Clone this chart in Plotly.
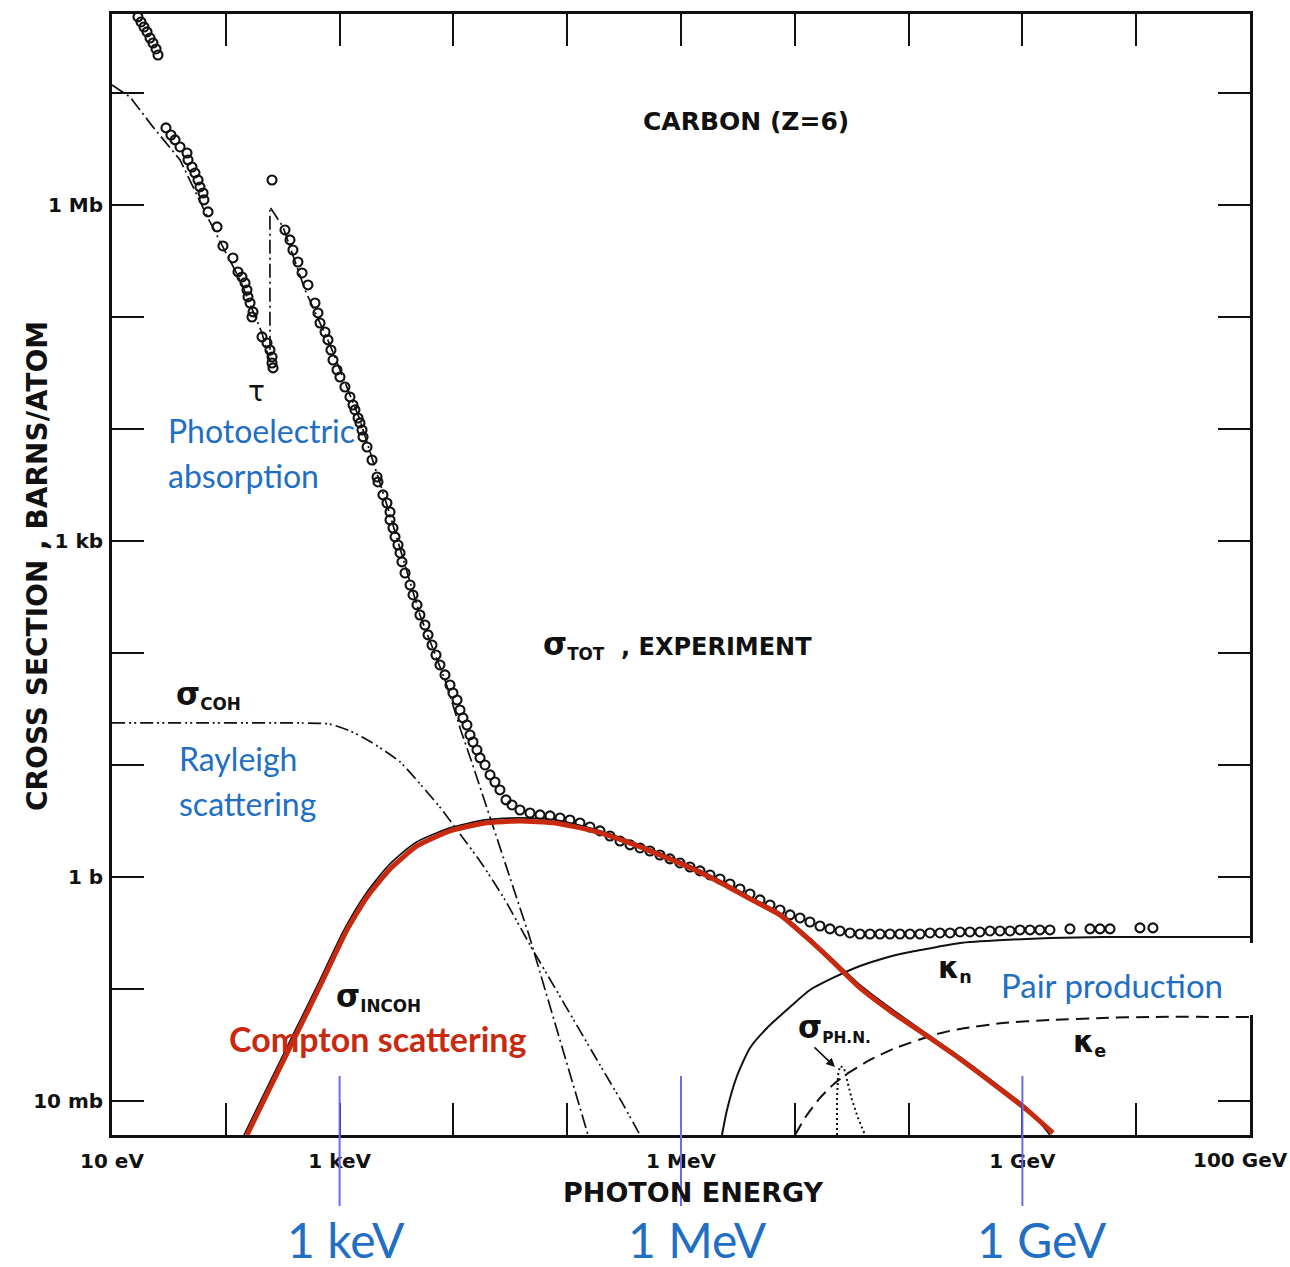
import numpy as np
import plotly.graph_objects as go

# ---------------- values ----------------
# energies are log10(E / eV), cross sections are log10(sigma / barn)

# sigma_TOT, experiment (open circles)
tot_log_e = [
    0.930, 0.938,
    1.228, 1.255, 1.281, 1.308, 1.334, 1.360, 1.387, 1.404,
    1.474, 1.518, 1.554, 1.598, 1.659, 1.668, 1.703, 1.729, 1.756, 1.773,
    1.800, 1.808, 1.844, 1.923, 1.975, 2.063, 2.107, 2.142, 2.169, 2.186,
    2.195, 2.213, 2.239, 2.230, 2.318, 2.362, 2.388, 2.406, 2.406, 2.415,
    2.406,
    2.520, 2.564, 2.590, 2.634, 2.670, 2.722, 2.784, 2.810, 2.828, 2.872,
    2.898, 2.924, 2.942, 2.977, 3.003, 3.047, 3.091, 3.118, 3.135, 3.162,
    3.179, 3.197, 3.206, 3.241, 3.285, 3.329, 3.337, 3.381, 3.416, 3.443,
    3.443, 3.469, 3.487, 3.513, 3.531, 3.548, 3.575,
    3.619, 3.645, 3.680, 3.706, 3.750, 3.777, 3.812, 3.847, 3.882, 3.926,
    3.970, 3.996, 4.032, 4.058, 4.084, 4.119, 4.146, 4.172, 4.207, 4.234,
    4.278, 4.322, 4.365, 4.409,
    4.462, 4.515, 4.585, 4.673, 4.761, 4.849, 4.937, 5.024, 5.112, 5.200,
    5.288, 5.376, 5.464, 5.552, 5.640, 5.727, 5.815, 5.903, 5.991, 6.079,
    6.167, 6.255, 6.343, 6.430, 6.518, 6.606, 6.694, 6.782, 6.870, 6.958,
    7.046, 7.133, 7.221, 7.309, 7.397, 7.485, 7.573, 7.661, 7.749, 7.836,
    7.924, 8.012, 8.100, 8.188, 8.276, 8.364, 8.452, 8.539, 8.627, 8.715,
    8.803, 8.891, 8.979, 9.067, 9.154, 9.242, 9.418, 9.594, 9.682, 9.770,
    10.033, 10.147,
]
tot_log_sigma = [
    7.455, 7.384,
    7.679, 7.634, 7.589, 7.545, 7.491, 7.446, 7.393, 7.339,
    6.688, 6.625, 6.581, 6.518, 6.464, 6.402, 6.339, 6.286, 6.223, 6.161,
    6.107, 6.045, 5.938, 5.804, 5.634, 5.527, 5.402, 5.357, 5.304, 5.241,
    5.179, 5.125, 5.045, 5.000, 4.822, 4.768, 4.705, 4.643, 4.589, 4.545,
    6.223,
    5.777, 5.688, 5.598, 5.491, 5.393, 5.286, 5.125, 5.036, 4.946, 4.866,
    4.795, 4.705, 4.616, 4.527, 4.464, 4.375, 4.286, 4.214, 4.170, 4.098,
    4.054, 3.991, 3.929, 3.839, 3.723, 3.571, 3.527, 3.411, 3.339, 3.259,
    3.188, 3.116, 3.036, 2.964, 2.893, 2.813, 2.714,
    2.607, 2.518, 2.429, 2.339, 2.250, 2.161, 2.071, 1.982, 1.893, 1.804,
    1.714, 1.643, 1.580, 1.491, 1.420, 1.357, 1.268, 1.205, 1.134, 1.063,
    1.000, 0.911, 0.848, 0.777,
    0.688, 0.643, 0.598, 0.571, 0.554, 0.545, 0.527, 0.509, 0.482, 0.446,
    0.411, 0.366, 0.321, 0.286, 0.259, 0.232, 0.196, 0.161, 0.125, 0.089,
    0.054, 0.018, -0.018, -0.063, -0.107, -0.152, -0.205, -0.250, -0.295, -0.339,
    -0.366, -0.402, -0.438, -0.464, -0.482, -0.500, -0.509, -0.509, -0.509, -0.509,
    -0.509, -0.509, -0.509, -0.500, -0.500, -0.500, -0.491, -0.491, -0.491, -0.482,
    -0.482, -0.482, -0.473, -0.473, -0.473, -0.473, -0.464, -0.464, -0.464, -0.464,
    -0.455, -0.455,
]

# tau, photoelectric absorption (dash-dot), with the carbon K edge
tau_log_e = [1.000, 1.158, 1.360, 1.598, 1.861, 2.125, 2.318, 2.388, 2.388, 2.503,
             2.696, 2.916, 3.179, 3.443, 3.706, 3.926, 4.067, 4.155, 4.664, 4.849,
             5.103, 5.183]
tau_log_sigma = [7.072, 6.964, 6.697, 6.402, 5.848, 5.331, 4.857, 4.598, 5.982, 5.804,
                 5.241, 4.750, 4.080, 3.232, 2.339, 1.759, 1.304, 1.045, -0.518, -1.152,
                 -2.045, -2.304]

# sigma_COH, Rayleigh (dash-dot-dot)
coh_log_e = [1.000, 1.773, 2.652, 2.907, 3.091, 3.276, 3.531, 3.715, 3.873, 4.058,
             4.251, 4.453, 4.673, 4.893, 5.103, 5.288, 5.464, 5.640]
coh_log_sigma = [1.375, 1.375, 1.375, 1.366, 1.304, 1.205, 1.027, 0.821, 0.634, 0.384,
                 0.116, -0.205, -0.607, -0.991, -1.357, -1.679, -1.982, -2.304]

# sigma_INCOH (black, printed curve)
incoh_log_e = [2.160, 2.362, 2.599, 2.819, 3.039, 3.223, 3.425, 3.662, 3.970, 4.278,
               4.585, 4.893, 5.227, 5.525, 5.815, 6.105, 6.369, 6.606, 6.870, 7.089,
               7.309, 7.573, 7.863, 8.188, 8.452, 8.803, 9.040, 9.242]
incoh_log_sigma = [-2.304, -1.884, -1.393, -0.938, -0.473, -0.161, 0.098, 0.304, 0.438, 0.509,
                   0.527, 0.509, 0.429, 0.330, 0.214, 0.089, -0.045, -0.179, -0.321, -0.509,
                   -0.714, -0.964, -1.188, -1.420, -1.607, -1.875, -2.063, -2.304]

# Compton scattering (red overlay trace)
compton_log_e = [2.186, 2.388, 2.626, 2.845, 3.065, 3.241, 3.443, 3.680, 3.970, 4.278,
                 4.585, 4.893, 5.227, 5.525, 5.815, 6.105, 6.369, 6.606, 6.870, 7.089,
                 7.309, 7.573, 7.863, 8.188, 8.452, 8.803, 9.040, 9.269]
compton_log_sigma = [-2.304, -1.884, -1.393, -0.938, -0.473, -0.179, 0.071, 0.277, 0.411, 0.482,
                     0.500, 0.482, 0.411, 0.313, 0.196, 0.071, -0.063, -0.196, -0.339, -0.527,
                     -0.732, -0.991, -1.214, -1.438, -1.625, -1.893, -2.080, -2.286]

# kappa_n, pair production in the nuclear field (solid)
kn_log_e = [6.360, 6.404, 6.492, 6.606, 6.756, 6.958, 7.133, 7.353, 7.573, 7.792,
            8.012, 8.250, 8.452, 8.829, 9.242, 9.708, 10.121, 11.000]
kn_log_sigma = [-2.304, -2.080, -1.777, -1.527, -1.348, -1.161, -1.009, -0.893, -0.795, -0.723,
                -0.670, -0.625, -0.589, -0.563, -0.545, -0.536, -0.536, -0.536]

# kappa_e, pair production in the electron field (dashed)
ke_log_e = [7.002, 7.089, 7.221, 7.353, 7.485, 7.661, 7.863, 8.250, 8.452, 8.829,
            9.242, 9.708, 10.121, 11.000]
ke_log_sigma = [-2.304, -2.152, -1.973, -1.839, -1.741, -1.634, -1.536, -1.402, -1.357, -1.304,
                -1.277, -1.259, -1.250, -1.250]

# sigma_PH.N., photonuclear (dotted)
phn_log_e = [7.371, 7.371, 7.380, 7.397, 7.432, 7.459, 7.503, 7.555, 7.617]
phn_log_sigma = [-2.304, -1.991, -1.768, -1.688, -1.705, -1.813, -1.991, -2.152, -2.304]

# axes: labelled decades and unlabelled decades
x_tick_energy_ev = [1e1, 1e3, 1e6, 1e9]
x_tick_text = ["10 eV", "1 keV", "1 MeV", "1 GeV"]
x_edge_tick_ev = 1e11
x_edge_tick_text = "100 GeV"
x_minor_energy_ev = [1e2, 1e4, 1e5, 1e7, 1e8, 1e10, 1e11]
y_tick_sigma_b = [1e-2, 1e0, 1e3, 1e6]
y_tick_text = ["10 mb", "1 b", "1 kb", "1 Mb"]
y_minor_sigma_b = [1e-1, 1e1, 1e2, 1e4, 1e5, 1e7]
x_range_log = [1.0, 11.0]
y_range_log = [-2.304, 7.705]

# blue marker lines under the axis
marker_energies_ev = [1e3, 1e6, 1e9]
marker_labels = ["1 keV", "1 MeV", "1 GeV"]


def lin(a):
    return np.power(10.0, np.asarray(a, dtype=float))


# ---------------- figure ----------------
FIG_W, FIG_H = 1290, 1267
L, T, W, H = 112, 14, 1138, 1121


def pp(x, y):
    """pixel position on the page -> paper coordinates"""
    return (x - L) / W, (T + H - y) / H


BLACK = "#111111"
BLUE = "#1f6fc4"
RED = "#c8290f"
LINEBLUE = "#6b6bf2"
LETTER = "DejaVu Sans"
SLIDE = "Lato"

fig = go.Figure()

fig.add_trace(go.Scatter(x=lin(coh_log_e), y=lin(coh_log_sigma), mode="lines",
                         line=dict(color=BLACK, width=1.7, dash="13px,4px,2px,3px,2px,4px",
                                   shape="spline", smoothing=0.6),
                         showlegend=False, hoverinfo="skip"))
fig.add_trace(go.Scatter(x=lin(tau_log_e), y=lin(tau_log_sigma), mode="lines",
                         line=dict(color=BLACK, width=1.7, dash="14px,4px,2px,4px"),
                         showlegend=False, hoverinfo="skip"))
fig.add_trace(go.Scatter(x=lin(incoh_log_e), y=lin(incoh_log_sigma), mode="lines",
                         line=dict(color=BLACK, width=1.7, shape="spline", smoothing=0.6),
                         showlegend=False, hoverinfo="skip"))
fig.add_trace(go.Scatter(x=lin(kn_log_e), y=lin(kn_log_sigma), mode="lines",
                         line=dict(color=BLACK, width=2, shape="spline", smoothing=0.6),
                         showlegend=False, hoverinfo="skip"))
fig.add_trace(go.Scatter(x=lin(ke_log_e), y=lin(ke_log_sigma), mode="lines",
                         line=dict(color=BLACK, width=2, dash="13px,7px",
                                   shape="spline", smoothing=0.6),
                         showlegend=False, hoverinfo="skip"))
fig.add_trace(go.Scatter(x=lin(phn_log_e), y=lin(phn_log_sigma), mode="lines",
                         line=dict(color=BLACK, width=2, dash="2px,3px"),
                         showlegend=False, hoverinfo="skip"))
fig.add_trace(go.Scatter(x=lin(tot_log_e), y=lin(tot_log_sigma), mode="markers",
                         marker=dict(symbol="circle-open", size=9, color=BLACK,
                                     line=dict(width=2.1)),
                         cliponaxis=False, showlegend=False, hoverinfo="skip"))
fig.add_trace(go.Scatter(x=lin(compton_log_e), y=lin(compton_log_sigma), mode="lines",
                         line=dict(color=RED, width=5, shape="spline", smoothing=0.5),
                         showlegend=False, hoverinfo="skip"))
# empty trace that carries the overlay axes used for the unlabelled decade ticks
fig.add_trace(go.Scatter(x=[], y=[], xaxis="x2", yaxis="y2", mode="lines",
                         showlegend=False, hoverinfo="skip"))

tick_style = dict(ticks="inside", ticklen=32, tickwidth=2.2, tickcolor=BLACK)
axis_common = dict(
    type="log", showgrid=False, zeroline=False, automargin=False,
    showline=True, linecolor=BLACK, linewidth=2.8, mirror="ticks",
    tickfont=dict(family=LETTER, size=20, color=BLACK, weight="bold"),
    **tick_style,
)

fig.update_layout(
    xaxis=dict(range=x_range_log, tickmode="array", tickvals=x_tick_energy_ev,
               ticktext=x_tick_text, ticklabelstandoff=6, **axis_common),
    yaxis=dict(range=y_range_log, tickmode="array", tickvals=y_tick_sigma_b,
               ticktext=y_tick_text, ticklabelstandoff=2, **axis_common),
    xaxis2=dict(range=x_range_log, overlaying="x", anchor="y2", side="bottom",
                tickmode="array", tickvals=x_minor_energy_ev, showticklabels=False,
                **axis_common),
    yaxis2=dict(range=y_range_log, overlaying="y", anchor="x2", side="left",
                tickmode="array", tickvals=y_minor_sigma_b, showticklabels=False,
                **axis_common),
)

shapes = []
# white patch behind "Pair production"
x0, y0 = pp(985, 1015)
x1, y1 = pp(1300, 943)
shapes.append(dict(type="rect", xref="paper", yref="paper", x0=x0, x1=x1, y0=y0, y1=y1,
                   fillcolor="white", line=dict(width=0), layer="above"))
_, yb = pp(0, 1206)
_, yt = pp(0, 1076)
for e in marker_energies_ev:
    shapes.append(dict(type="line", xref="x", yref="paper", x0=e, x1=e,
                       y0=yb, y1=yt, line=dict(color=LINEBLUE, width=2), layer="above"))

ann = []


def text(px, py, s, size, color=BLACK, family=LETTER, weight="bold", anchor="left",
         angle=0):
    ax_, ay_ = pp(px, py)
    ann.append(dict(x=ax_, y=ay_, xref="paper", yref="paper", text=s, showarrow=False,
                    xanchor=anchor, yanchor="middle", textangle=angle,
                    font=dict(family=family, size=size, color=color, weight=weight)))


SIG = "<span style='font-size:31px'>σ</span>"
text(746, 121, "CARBON (Z=6)", 25, anchor="center")
text(541, 645, SIG + "<sub>TOT</sub>  , EXPERIMENT", 24)
text(174, 695, SIG + "<sub>COH</sub>", 24)
text(334, 997, SIG + "<sub>INCOH</sub>", 24)
text(796, 1028, SIG + "<sub>PH.N.</sub>", 22)
text(256, 391, "τ", 28, weight="normal", anchor="center")
text(936, 968, "<span style='font-size:30px'>κ</span><sub>n</sub>", 25)
text(1071, 1042, "<span style='font-size:30px'>κ</span><sub>e</sub>", 25)
text(37, 566, "CROSS SECTION , BARNS/ATOM", 28, anchor="center", angle=-90)
text(693, 1192, "PHOTON ENERGY", 27, anchor="center")
# label of the last decade tick, shifted left so it stays on the page as in the original
text(1240, 1160, x_edge_tick_text, 20, anchor="center")

text(166, 430, "Photoelectric", 32, color=BLUE, family=SLIDE, weight="normal")
text(166, 475, "absorption", 32, color=BLUE, family=SLIDE, weight="normal")
text(177, 758, "Rayleigh", 32, color=BLUE, family=SLIDE, weight="normal")
text(177, 803, "scattering", 32, color=BLUE, family=SLIDE, weight="normal")
text(999, 985, "Pair production", 33, color=BLUE, family=SLIDE, weight="normal")
text(227, 1038, "Compton scattering", 34, color=RED, family=SLIDE, weight="bold")

for lbl, cx in zip(marker_labels, [346, 697, 1042]):
    text(cx, 1239, lbl, 48, color=BLUE, family=SLIDE, weight="normal", anchor="center")

# arrow pointing at the photonuclear peak
hx, hy = pp(835, 1067)
ann.append(dict(x=hx, y=hy, xref="paper", yref="paper", text="", showarrow=True,
                arrowhead=2, arrowsize=1.1, arrowwidth=1.6, arrowcolor=BLACK,
                ax=-22, ay=-21))

fig.update_layout(
    width=FIG_W, height=FIG_H,
    margin=dict(l=L, r=FIG_W - L - W, t=T, b=FIG_H - T - H, autoexpand=False),
    paper_bgcolor="white", plot_bgcolor="white",
    showlegend=False, shapes=shapes, annotations=ann,
)

fig.write_html("out.html")
